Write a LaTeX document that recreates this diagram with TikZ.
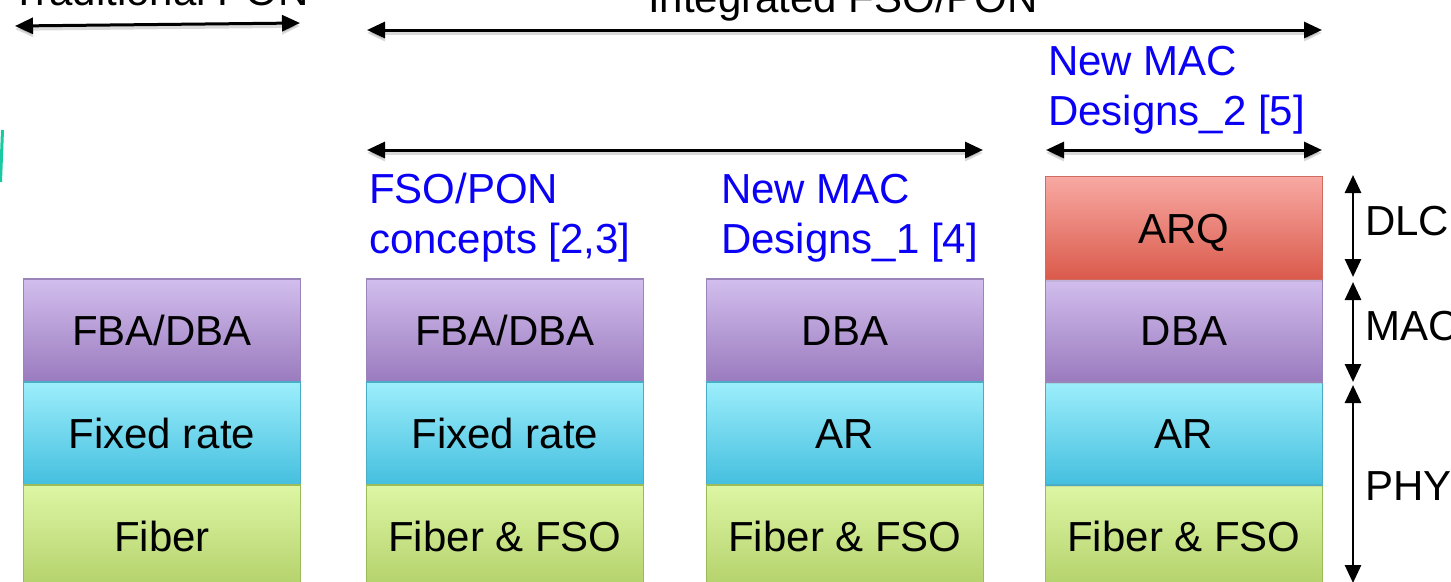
\documentclass[tikz,border=0pt]{standalone}
\usepackage{fontspec}
\setmainfont{Liberation Sans}
\usetikzlibrary{arrows.meta,shadows}

\definecolor{macTop}{HTML}{D2BEEE}
\definecolor{macBot}{HTML}{9A7BBE}
\definecolor{macLine}{HTML}{9A84BA}
\definecolor{phyTop}{HTML}{9DEEFB}
\definecolor{phyBot}{HTML}{44BFDF}
\definecolor{phyLine}{HTML}{4BACC6}
\definecolor{medTop}{HTML}{DDF6A4}
\definecolor{medBot}{HTML}{B3D16A}
\definecolor{medLine}{HTML}{9BBB59}
\definecolor{dlcTop}{HTML}{F8A9A3}
\definecolor{dlcBot}{HTML}{DA5A4B}
\definecolor{dlcLine}{HTML}{D06B60}
\definecolor{refBlue}{HTML}{0A00F5}
\definecolor{tealMark}{HTML}{19C9A2}

\tikzset{
  layer/.style={draw, line width=1.2pt, minimum width=277pt, minimum height=103pt,
    inner sep=0pt, text height=30pt, text depth=0pt,
    font=\fontsize{42}{50}\selectfont,
    drop shadow={shadow xshift=0pt, shadow yshift=-2pt, opacity=0.18}},
  maclayer/.style={layer, draw=macLine, top color=macTop, bottom color=macBot},
  ratelayer/.style={layer, draw=phyLine, top color=phyTop, bottom color=phyBot},
  medlayer/.style={layer, draw=medLine, top color=medTop, bottom color=medBot},
  dlclayer/.style={layer, draw=dlcLine, top color=dlcTop, bottom color=dlcBot},
  tip/.style={Triangle[length=18pt,width=16pt]},
  span/.style={line width=3pt, {Triangle[length=18pt,width=16pt]}-{Triangle[length=18pt,width=16pt]},
    preaction={draw=black, opacity=0.15, line width=3.5pt, transform canvas={yshift=-3pt}}},
  vspan/.style={line width=2.8pt, {Triangle[length=18pt,width=16pt]}-{Triangle[length=18pt,width=16pt]}},
  heading/.style={font=\fontsize{42}{50}\selectfont, inner sep=0pt, anchor=base},
  ref/.style={font=\fontsize{42}{50}\selectfont, text=refBlue, align=left, inner sep=0pt, anchor=base west},
  levelname/.style={font=\fontsize{42}{50}\selectfont, inner sep=0pt, anchor=base west}
}

\begin{document}
\begin{tikzpicture}[x=1pt,y=-1pt]
\useasboundingbox (0,0) rectangle (1451,581);
\begin{scope}
\clip (0,0) rectangle (1451,581);

% partial marker on the far left
\draw[tealMark, line width=3pt] (0.5,182) -- (2.5,130);

% ---- layer stacks ----
% traditional PON
\node[maclayer]  (a1) at (162,330.5) {FBA/DBA};
\node[ratelayer] (a2) at (162,433.5) {Fixed rate};
\node[medlayer]  (a3) at (162,536.5) {Fiber};
% FSO/PON concepts
\node[maclayer]  (b1) at (505,330.5) {FBA/DBA};
\node[ratelayer] (b2) at (505,433.5) {Fixed rate};
\node[medlayer]  (b3) at (505,536.5) {Fiber \& FSO};
% new MAC designs 1
\node[maclayer]  (c1) at (845,330.5) {DBA};
\node[ratelayer] (c2) at (845,433.5) {AR};
\node[medlayer]  (c3) at (845,536.5) {Fiber \& FSO};
% new MAC designs 2
\node[medlayer]  (d3) at (1184,536.5) {Fiber \& FSO};
\node[ratelayer] (d2) at (1184,433.5) {AR};
\node[maclayer]  (d1) at (1184,330.5) {DBA};
\node[dlclayer]  (d0) at (1184,228) {ARQ};

% ---- span arrows ----
\coordinate (tpL) at (15,26);
\coordinate (tpR) at (300,23);
\draw[span] (tpL) -- (tpR);
\node[heading] (tp) at (160,5) {Traditional PON};

\coordinate (inL) at (367,30);
\coordinate (inR) at (1322,30);
\draw[span] (inL) -- (inR);
\node[heading] (in) at (843,12) {Integrated FSO/PON};

\coordinate (fpL) at (367,150);
\coordinate (fpR) at (983,150);
\draw[span] (fpL) -- (fpR);

\coordinate (m2L) at (1046,150);
\coordinate (m2R) at (1322,150);
\draw[span] (m2L) -- (m2R);

% ---- reference labels (anchored at the last line's baseline) ----
\node[ref] (r1) at (369,253) {FSO/PON\\concepts [2,3]};
\node[ref] (r2) at (721,253) {New MAC\\Designs\_1 [4]};
\node[ref] (r3) at (1048,125) {New MAC\\Designs\_2 [5]};

% ---- protocol levels ----
\coordinate (dlcT) at (1353,175);
\coordinate (dlcB) at (1353,277);
\coordinate (macT) at (1353,282);
\coordinate (macB) at (1353,382);
\coordinate (phyT) at (1353,385);
\coordinate (phyB) at (1353,583);
\draw[vspan] (dlcT) -- (dlcB);
\draw[vspan] (macT) -- (macB);
\draw[vspan] (phyT) -- (phyB);
\node[levelname] (dlc) at (1365,235) {DLC};
\node[levelname] (mac) at (1365,340) {MAC};
\node[levelname] (phy) at (1365,500) {PHY};
\end{scope}
\end{tikzpicture}
\end{document}
